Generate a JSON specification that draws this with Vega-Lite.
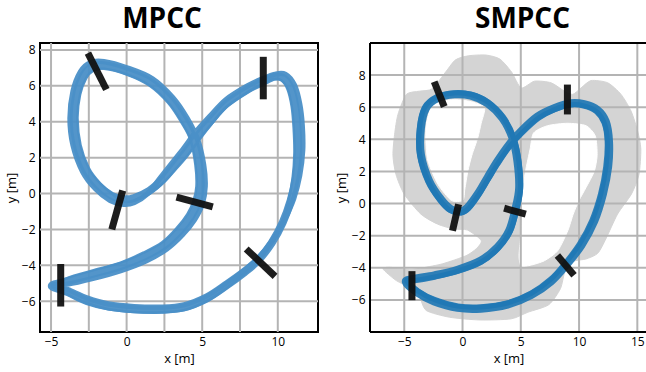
{
  "$schema": "https://vega.github.io/schema/vega-lite/v6.json",
  "padding": {"left": 4, "top": 5, "right": 0, "bottom": 0},
  "spacing": 15,
  "config": {
    "view": {"stroke": "black", "strokeWidth": 2},
    "axis": {"grid": false, "domain": false, "ticks": false, "labelFont": "Open Sans", "labelFontSize": 12, "labelColor": "#000", "titleFont": "Open Sans", "titleFontSize": 13, "titleFontWeight": "normal", "titleColor": "#000", "labelPadding": 5, "titlePadding": 3, "labelFlush": false},
    "axisX": {"labelPadding": 4, "titlePadding": 5},
    "title": {"font": "Open Sans", "fontSize": 28, "fontWeight": "bold", "color": "#000", "frame": "group", "anchor": "middle", "baseline": "alphabetic", "offset": 8}
  },
  "datasets": {
    "mp_laps": [
      {"l":1,"i":0,"x":-4.95,"y":-5.15},{"l":1,"i":1,"x":-3.9,"y":-5.5},{"l":1,"i":2,"x":-2.6,"y":-6.0},{"l":1,"i":3,"x":-1.2,"y":-6.3},{"l":1,"i":4,"x":0.5,"y":-6.45},{"l":1,"i":5,"x":2.3,"y":-6.48},{"l":1,"i":6,"x":3.8,"y":-6.35},{"l":1,"i":7,"x":5.3,"y":-5.85},{"l":1,"i":8,"x":6.6,"y":-5.13},{"l":1,"i":9,"x":7.7,"y":-4.45},{"l":1,"i":10,"x":8.68,"y":-3.74},{"l":1,"i":11,"x":9.6,"y":-2.75},{"l":1,"i":12,"x":10.33,"y":-1.61},{"l":1,"i":13,"x":10.85,"y":-0.4},{"l":1,"i":14,"x":11.2,"y":0.9},{"l":1,"i":15,"x":11.35,"y":2.3},{"l":1,"i":16,"x":11.3,"y":3.7},{"l":1,"i":17,"x":11.15,"y":4.9},{"l":1,"i":18,"x":10.85,"y":5.9},{"l":1,"i":19,"x":10.35,"y":6.45},{"l":1,"i":20,"x":9.75,"y":6.5},{"l":1,"i":21,"x":9.0,"y":6.22},{"l":1,"i":22,"x":8.0,"y":5.8},{"l":1,"i":23,"x":6.6,"y":5.0},{"l":1,"i":24,"x":5.5,"y":4.0},{"l":1,"i":25,"x":4.6,"y":3.1},{"l":1,"i":26,"x":3.9,"y":2.3},{"l":1,"i":27,"x":3.2,"y":1.6},{"l":1,"i":28,"x":2.4,"y":0.8},{"l":1,"i":29,"x":1.5,"y":0.15},{"l":1,"i":30,"x":0.5,"y":-0.25},{"l":1,"i":31,"x":-0.2,"y":-0.32},{"l":1,"i":32,"x":-1.0,"y":-0.12},{"l":1,"i":33,"x":-1.9,"y":0.45},{"l":1,"i":34,"x":-2.7,"y":1.3},{"l":1,"i":35,"x":-3.3,"y":2.7},{"l":1,"i":36,"x":-3.5,"y":4.2},{"l":1,"i":37,"x":-3.3,"y":5.6},{"l":1,"i":38,"x":-2.85,"y":6.6},{"l":1,"i":39,"x":-2.3,"y":7.05},{"l":1,"i":40,"x":-1.5,"y":7.15},{"l":1,"i":41,"x":0.05,"y":6.8},{"l":1,"i":42,"x":1.6,"y":6.2},{"l":1,"i":43,"x":2.9,"y":5.2},{"l":1,"i":44,"x":3.8,"y":4.1},{"l":1,"i":45,"x":4.45,"y":3.0},{"l":1,"i":46,"x":4.8,"y":1.6},{"l":1,"i":47,"x":4.9,"y":0.4},{"l":1,"i":48,"x":4.7,"y":-0.5},{"l":1,"i":49,"x":4.25,"y":-1.3},{"l":1,"i":50,"x":3.5,"y":-2.1},{"l":1,"i":51,"x":2.5,"y":-2.9},{"l":1,"i":52,"x":1.2,"y":-3.5},{"l":1,"i":53,"x":-0.4,"y":-4.05},{"l":1,"i":54,"x":-2.3,"y":-4.5},{"l":1,"i":55,"x":-3.9,"y":-4.88},
      {"l":2,"i":0,"x":-4.85,"y":-5.1},{"l":2,"i":1,"x":-3.9,"y":-5.35},{"l":2,"i":2,"x":-2.6,"y":-5.82},{"l":2,"i":3,"x":-1.2,"y":-6.15},{"l":2,"i":4,"x":0.5,"y":-6.3},{"l":2,"i":5,"x":2.3,"y":-6.33},{"l":2,"i":6,"x":3.8,"y":-6.2},{"l":2,"i":7,"x":5.3,"y":-5.7},{"l":2,"i":8,"x":6.6,"y":-4.98},{"l":2,"i":9,"x":7.75,"y":-4.28},{"l":2,"i":10,"x":8.75,"y":-3.55},{"l":2,"i":11,"x":9.7,"y":-2.55},{"l":2,"i":12,"x":10.45,"y":-1.45},{"l":2,"i":13,"x":11.05,"y":-0.3},{"l":2,"i":14,"x":11.45,"y":1.0},{"l":2,"i":15,"x":11.65,"y":2.4},{"l":2,"i":16,"x":11.62,"y":3.8},{"l":2,"i":17,"x":11.45,"y":5.0},{"l":2,"i":18,"x":11.1,"y":6.05},{"l":2,"i":19,"x":10.5,"y":6.65},{"l":2,"i":20,"x":9.8,"y":6.65},{"l":2,"i":21,"x":9.0,"y":6.4},{"l":2,"i":22,"x":8.0,"y":6.0},{"l":2,"i":23,"x":6.6,"y":5.25},{"l":2,"i":24,"x":5.5,"y":4.3},{"l":2,"i":25,"x":4.55,"y":3.4},{"l":2,"i":26,"x":3.8,"y":2.55},{"l":2,"i":27,"x":3.05,"y":1.75},{"l":2,"i":28,"x":2.25,"y":0.9},{"l":2,"i":29,"x":1.4,"y":0.0},{"l":2,"i":30,"x":0.5,"y":-0.5},{"l":2,"i":31,"x":-0.2,"y":-0.6},{"l":2,"i":32,"x":-1.1,"y":-0.38},{"l":2,"i":33,"x":-2.05,"y":0.25},{"l":2,"i":34,"x":-2.9,"y":1.2},{"l":2,"i":35,"x":-3.55,"y":2.7},{"l":2,"i":36,"x":-3.75,"y":4.2},{"l":2,"i":37,"x":-3.55,"y":5.7},{"l":2,"i":38,"x":-3.05,"y":6.8},{"l":2,"i":39,"x":-2.4,"y":7.3},{"l":2,"i":40,"x":-1.5,"y":7.35},{"l":2,"i":41,"x":0.05,"y":7.0},{"l":2,"i":42,"x":1.7,"y":6.4},{"l":2,"i":43,"x":3.05,"y":5.35},{"l":2,"i":44,"x":4.0,"y":4.2},{"l":2,"i":45,"x":4.7,"y":3.0},{"l":2,"i":46,"x":5.1,"y":1.6},{"l":2,"i":47,"x":5.2,"y":0.4},{"l":2,"i":48,"x":5.0,"y":-0.6},{"l":2,"i":49,"x":4.5,"y":-1.45},{"l":2,"i":50,"x":3.7,"y":-2.3},{"l":2,"i":51,"x":2.65,"y":-3.1},{"l":2,"i":52,"x":1.3,"y":-3.75},{"l":2,"i":53,"x":-0.4,"y":-4.3},{"l":2,"i":54,"x":-2.3,"y":-4.75},{"l":2,"i":55,"x":-3.9,"y":-5.05},
      {"l":3,"i":0,"x":-4.9,"y":-5.2},{"l":3,"i":1,"x":-3.9,"y":-5.62},{"l":3,"i":2,"x":-2.6,"y":-6.12},{"l":3,"i":3,"x":-1.2,"y":-6.45},{"l":3,"i":4,"x":0.5,"y":-6.6},{"l":3,"i":5,"x":2.3,"y":-6.62},{"l":3,"i":6,"x":3.8,"y":-6.5},{"l":3,"i":7,"x":5.3,"y":-6.0},{"l":3,"i":8,"x":6.6,"y":-5.28},{"l":3,"i":9,"x":7.62,"y":-4.6},{"l":3,"i":10,"x":8.6,"y":-3.9},{"l":3,"i":11,"x":9.5,"y":-2.9},{"l":3,"i":12,"x":10.2,"y":-1.75},{"l":3,"i":13,"x":10.68,"y":-0.5},{"l":3,"i":14,"x":10.98,"y":0.85},{"l":3,"i":15,"x":11.1,"y":2.25},{"l":3,"i":16,"x":11.05,"y":3.65},{"l":3,"i":17,"x":10.92,"y":4.85},{"l":3,"i":18,"x":10.65,"y":5.8},{"l":3,"i":19,"x":10.25,"y":6.3},{"l":3,"i":20,"x":9.7,"y":6.38},{"l":3,"i":21,"x":9.0,"y":6.12},{"l":3,"i":22,"x":8.0,"y":5.65},{"l":3,"i":23,"x":6.6,"y":4.82},{"l":3,"i":24,"x":5.55,"y":3.8},{"l":3,"i":25,"x":4.68,"y":2.85},{"l":3,"i":26,"x":3.98,"y":2.05},{"l":3,"i":27,"x":3.3,"y":1.4},{"l":3,"i":28,"x":2.5,"y":0.65},{"l":3,"i":29,"x":1.6,"y":0.05},{"l":3,"i":30,"x":0.5,"y":-0.38},{"l":3,"i":31,"x":-0.2,"y":-0.44},{"l":3,"i":32,"x":-0.95,"y":-0.02},{"l":3,"i":33,"x":-1.78,"y":0.6},{"l":3,"i":34,"x":-2.5,"y":1.42},{"l":3,"i":35,"x":-3.05,"y":2.7},{"l":3,"i":36,"x":-3.25,"y":4.2},{"l":3,"i":37,"x":-3.08,"y":5.5},{"l":3,"i":38,"x":-2.68,"y":6.42},{"l":3,"i":39,"x":-2.2,"y":6.85},{"l":3,"i":40,"x":-1.5,"y":6.95},{"l":3,"i":41,"x":0.05,"y":6.62},{"l":3,"i":42,"x":1.5,"y":6.02},{"l":3,"i":43,"x":2.75,"y":5.05},{"l":3,"i":44,"x":3.6,"y":4.0},{"l":3,"i":45,"x":4.22,"y":3.0},{"l":3,"i":46,"x":4.55,"y":1.6},{"l":3,"i":47,"x":4.62,"y":0.4},{"l":3,"i":48,"x":4.42,"y":-0.42},{"l":3,"i":49,"x":4.02,"y":-1.15},{"l":3,"i":50,"x":3.32,"y":-1.92},{"l":3,"i":51,"x":2.35,"y":-2.72},{"l":3,"i":52,"x":1.1,"y":-3.3},{"l":3,"i":53,"x":-0.4,"y":-3.85},{"l":3,"i":54,"x":-2.3,"y":-4.3},{"l":3,"i":55,"x":-3.9,"y":-4.7}
    ],
    "mp_gates": [
      {"g":1,"x":-2.56,"y":7.83,"x2":-1.34,"y2":5.8},
      {"g":2,"x":9.04,"y":7.62,"x2":9.04,"y2":5.25},
      {"g":3,"x":-0.26,"y":0.17,"x2":-0.98,"y2":-2.0},
      {"g":4,"x":3.3,"y":-0.2,"x2":5.7,"y2":-0.75},
      {"g":5,"x":-4.36,"y":-3.93,"x2":-4.36,"y2":-6.3},
      {"g":6,"x":7.91,"y":-3.09,"x2":9.82,"y2":-4.62}
    ],
    "sm_laps": [
      {"l":1,"i":0,"x":-4.86,"y":-4.89},{"l":1,"i":1,"x":-3.86,"y":-5.55},{"l":1,"i":2,"x":-2.43,"y":-6.1},{"l":1,"i":3,"x":-0.43,"y":-6.5},{"l":1,"i":4,"x":1.57,"y":-6.55},{"l":1,"i":5,"x":3.86,"y":-6.3},{"l":1,"i":6,"x":5.9,"y":-5.7},{"l":1,"i":7,"x":7.6,"y":-4.85},{"l":1,"i":8,"x":8.86,"y":-3.86},{"l":1,"i":9,"x":10.2,"y":-2.6},{"l":1,"i":10,"x":11.3,"y":-1.1},{"l":1,"i":11,"x":12.05,"y":0.6},{"l":1,"i":12,"x":12.5,"y":2.3},{"l":1,"i":13,"x":12.57,"y":3.88},{"l":1,"i":14,"x":12.29,"y":5.11},{"l":1,"i":15,"x":11.57,"y":5.84},{"l":1,"i":16,"x":10.43,"y":6.19},{"l":1,"i":17,"x":9.29,"y":6.25},{"l":1,"i":18,"x":7.86,"y":5.94},{"l":1,"i":19,"x":6.43,"y":5.42},{"l":1,"i":20,"x":5.0,"y":4.49},{"l":1,"i":21,"x":4.0,"y":3.67},{"l":1,"i":22,"x":3.0,"y":2.64},{"l":1,"i":23,"x":2.14,"y":1.61},{"l":1,"i":24,"x":1.29,"y":0.58},{"l":1,"i":25,"x":0.43,"y":-0.25},{"l":1,"i":26,"x":-0.14,"y":-0.49},{"l":1,"i":27,"x":-1.0,"y":-0.35},{"l":1,"i":28,"x":-1.86,"y":0.27},{"l":1,"i":29,"x":-2.86,"y":1.4},{"l":1,"i":30,"x":-3.57,"y":3.05},{"l":1,"i":31,"x":-3.57,"y":4.7},{"l":1,"i":32,"x":-3.14,"y":5.94},{"l":1,"i":33,"x":-2.14,"y":6.56},{"l":1,"i":34,"x":-0.71,"y":6.8},{"l":1,"i":35,"x":0.71,"y":6.72},{"l":1,"i":36,"x":2.14,"y":6.25},{"l":1,"i":37,"x":3.43,"y":5.32},{"l":1,"i":38,"x":4.29,"y":4.08},{"l":1,"i":39,"x":4.71,"y":2.64},{"l":1,"i":40,"x":4.86,"y":0.99},{"l":1,"i":41,"x":4.57,"y":-0.25},{"l":1,"i":42,"x":4.0,"y":-1.69},{"l":1,"i":43,"x":3.0,"y":-2.72},{"l":1,"i":44,"x":1.57,"y":-3.55},{"l":1,"i":45,"x":-0.43,"y":-4.12},{"l":1,"i":46,"x":-2.43,"y":-4.47},{"l":1,"i":47,"x":-4.14,"y":-4.68},
      {"l":2,"i":0,"x":-4.78,"y":-4.8},{"l":2,"i":1,"x":-3.8,"y":-5.45},{"l":2,"i":2,"x":-2.4,"y":-5.98},{"l":2,"i":3,"x":-0.4,"y":-6.38},{"l":2,"i":4,"x":1.6,"y":-6.43},{"l":2,"i":5,"x":3.9,"y":-6.18},{"l":2,"i":6,"x":5.9,"y":-5.58},{"l":2,"i":7,"x":7.55,"y":-4.72},{"l":2,"i":8,"x":8.78,"y":-3.74},{"l":2,"i":9,"x":10.05,"y":-2.5},{"l":2,"i":10,"x":11.1,"y":-1.05},{"l":2,"i":11,"x":11.85,"y":0.6},{"l":2,"i":12,"x":12.3,"y":2.3},{"l":2,"i":13,"x":12.42,"y":3.88},{"l":2,"i":14,"x":12.15,"y":5.02},{"l":2,"i":15,"x":11.5,"y":5.72},{"l":2,"i":16,"x":10.4,"y":6.08},{"l":2,"i":17,"x":9.3,"y":6.14},{"l":2,"i":18,"x":7.9,"y":5.85},{"l":2,"i":19,"x":6.5,"y":5.3},{"l":2,"i":20,"x":5.05,"y":4.35},{"l":2,"i":21,"x":4.05,"y":3.55},{"l":2,"i":22,"x":3.05,"y":2.5},{"l":2,"i":23,"x":2.2,"y":1.5},{"l":2,"i":24,"x":1.35,"y":0.5},{"l":2,"i":25,"x":0.5,"y":-0.32},{"l":2,"i":26,"x":-0.12,"y":-0.58},{"l":2,"i":27,"x":-1.05,"y":-0.44},{"l":2,"i":28,"x":-1.95,"y":0.22},{"l":2,"i":29,"x":-2.95,"y":1.4},{"l":2,"i":30,"x":-3.68,"y":3.05},{"l":2,"i":31,"x":-3.7,"y":4.7},{"l":2,"i":32,"x":-3.25,"y":6.0},{"l":2,"i":33,"x":-2.2,"y":6.66},{"l":2,"i":34,"x":-0.71,"y":6.9},{"l":2,"i":35,"x":0.75,"y":6.8},{"l":2,"i":36,"x":2.2,"y":6.32},{"l":2,"i":37,"x":3.5,"y":5.35},{"l":2,"i":38,"x":4.4,"y":4.05},{"l":2,"i":39,"x":4.85,"y":2.6},{"l":2,"i":40,"x":4.98,"y":0.95},{"l":2,"i":41,"x":4.68,"y":-0.3},{"l":2,"i":42,"x":4.08,"y":-1.75},{"l":2,"i":43,"x":3.05,"y":-2.8},{"l":2,"i":44,"x":1.6,"y":-3.65},{"l":2,"i":45,"x":-0.4,"y":-4.22},{"l":2,"i":46,"x":-2.4,"y":-4.58},{"l":2,"i":47,"x":-4.1,"y":-4.8}
    ],
    "sm_gates": [
      {"g":1,"x":-2.43,"y":7.59,"x2":-1.57,"y2":6.04},
      {"g":2,"x":9.0,"y":7.41,"x2":9.0,"y2":5.55},
      {"g":3,"x":-0.34,"y":-0.04,"x2":-0.86,"y2":-1.69},
      {"g":4,"x":3.57,"y":-0.29,"x2":5.43,"y2":-0.66},
      {"g":5,"x":-4.34,"y":-4.21,"x2":-4.34,"y2":-6.02},
      {"g":6,"x":8.14,"y":-3.24,"x2":9.57,"y2":-4.47}
    ],
    "sm_gray": [
      {"p":1,"i":1,"x":-5.54,"y":5.55},{"p":1,"i":2,"x":-4.82,"y":6.8},{"p":1,"i":3,"x":-3.68,"y":7.0},{"p":1,"i":4,"x":-2.6,"y":7.15},{"p":1,"i":5,"x":-1.4,"y":8.24},{"p":1,"i":6,"x":-0.6,"y":8.95},{"p":1,"i":7,"x":0.5,"y":9.2},{"p":1,"i":8,"x":2.0,"y":9.25},{"p":1,"i":9,"x":3.2,"y":9.0},{"p":1,"i":10,"x":4.2,"y":8.2},{"p":1,"i":11,"x":5.03,"y":7.2},{"p":1,"i":12,"x":6.17,"y":7.62},{"p":1,"i":13,"x":7.6,"y":7.52},{"p":1,"i":14,"x":8.74,"y":7.0},{"p":1,"i":15,"x":9.46,"y":6.8},{"p":1,"i":16,"x":10.17,"y":7.2},{"p":1,"i":17,"x":11.03,"y":7.66},{"p":1,"i":18,"x":12.46,"y":7.52},{"p":1,"i":19,"x":13.6,"y":6.8},{"p":1,"i":20,"x":14.46,"y":5.76},{"p":1,"i":21,"x":15.03,"y":4.5},{"p":1,"i":22,"x":15.3,"y":3.4},{"p":1,"i":23,"x":15.14,"y":1.81},{"p":1,"i":24,"x":14.5,"y":0.6},{"p":1,"i":25,"x":13.3,"y":-0.66},{"p":1,"i":26,"x":12.3,"y":-2.2},{"p":1,"i":27,"x":11.6,"y":-3.1},{"p":1,"i":28,"x":10.6,"y":-3.45},{"p":1,"i":29,"x":9.5,"y":-3.6},{"p":1,"i":30,"x":8.8,"y":-4.2},{"p":1,"i":31,"x":8.4,"y":-5.3},{"p":1,"i":32,"x":7.4,"y":-6.3},{"p":1,"i":33,"x":5.6,"y":-6.77},{"p":1,"i":34,"x":4.17,"y":-7.18},{"p":1,"i":35,"x":1.5,"y":-7.25},{"p":1,"i":36,"x":-1.11,"y":-7.08},{"p":1,"i":37,"x":-3.11,"y":-6.66},{"p":1,"i":38,"x":-3.68,"y":-5.84},{"p":1,"i":39,"x":-4.54,"y":-5.22},{"p":1,"i":40,"x":-5.68,"y":-4.8},{"p":1,"i":41,"x":-6.82,"y":-4.08},{"p":1,"i":42,"x":-6.25,"y":-3.97},{"p":1,"i":43,"x":-4.54,"y":-4.1},{"p":1,"i":44,"x":-3.4,"y":-4.0},{"p":1,"i":45,"x":-1.7,"y":-3.75},{"p":1,"i":46,"x":0.3,"y":-3.25},{"p":1,"i":47,"x":1.2,"y":-2.8},{"p":1,"i":48,"x":1.6,"y":-2.3},{"p":1,"i":49,"x":0.43,"y":-1.65},{"p":1,"i":50,"x":-0.71,"y":-1.59},{"p":1,"i":51,"x":-2.14,"y":-1.28},{"p":1,"i":52,"x":-3.57,"y":-0.66},{"p":1,"i":53,"x":-5.0,"y":0.58},{"p":1,"i":54,"x":-5.71,"y":1.81},{"p":1,"i":55,"x":-5.97,"y":3.0},{"p":1,"i":56,"x":-5.83,"y":4.3}
    ],
    "sm_holes": [
      {"p":1,"i":1,"x":-2.83,"y":5.76},{"p":1,"i":2,"x":-2.4,"y":6.2},{"p":1,"i":3,"x":-1.2,"y":6.45},{"p":1,"i":4,"x":-0.11,"y":6.45},{"p":1,"i":5,"x":1.0,"y":6.3},{"p":1,"i":6,"x":1.9,"y":5.96},{"p":1,"i":7,"x":1.6,"y":5.0},{"p":1,"i":8,"x":1.31,"y":4.1},{"p":1,"i":9,"x":0.8,"y":3.0},{"p":1,"i":10,"x":0.46,"y":2.03},{"p":1,"i":11,"x":0.2,"y":0.9},{"p":1,"i":12,"x":0.03,"y":0.2},{"p":1,"i":13,"x":-0.97,"y":0.2},{"p":1,"i":14,"x":-2.11,"y":1.2},{"p":1,"i":15,"x":-2.97,"y":2.65},{"p":1,"i":16,"x":-3.15,"y":4.0},{"p":1,"i":17,"x":-3.11,"y":4.9},
      {"p":2,"i":1,"x":6.1,"y":4.4},{"p":2,"i":2,"x":7.3,"y":4.85},{"p":2,"i":3,"x":9.0,"y":5.0},{"p":2,"i":4,"x":10.6,"y":4.85},{"p":2,"i":5,"x":11.4,"y":4.2},{"p":2,"i":6,"x":11.55,"y":3.0},{"p":2,"i":7,"x":11.3,"y":2.0},{"p":2,"i":8,"x":10.6,"y":1.0},{"p":2,"i":9,"x":10.0,"y":0.2},{"p":2,"i":10,"x":9.5,"y":-0.66},{"p":2,"i":11,"x":9.03,"y":-1.7},{"p":2,"i":12,"x":8.17,"y":-2.94},{"p":2,"i":13,"x":7.03,"y":-3.56},{"p":2,"i":14,"x":5.8,"y":-3.85},{"p":2,"i":15,"x":5.03,"y":-3.9},{"p":2,"i":16,"x":4.85,"y":-3.3},{"p":2,"i":17,"x":4.95,"y":-2.3},{"p":2,"i":18,"x":5.1,"y":-1.0},{"p":2,"i":19,"x":5.1,"y":0.5},{"p":2,"i":20,"x":5.4,"y":2.0},{"p":2,"i":21,"x":5.8,"y":3.4}
    ]
  },
  "hconcat": [
    {
      "width": 278,
      "height": 289,
      "title": {"text": "MPCC", "dx": -17},
      "layer": [
        {
          "data": {"values": [{"x":-5},{"x":-2.5},{"x":0},{"x":2.5},{"x":5},{"x":7.5},{"x":10}]},
          "mark": {"type": "rule", "color": "#b4b4b4", "strokeWidth": 2},
          "encoding": {
            "x": {"field": "x", "type": "quantitative", "scale": {"domain": [-5.73, 12.66], "nice": false, "zero": false}, "axis": {"values": [-5, 0, 5, 10], "title": "x [m]"}}
          }
        },
        {
          "data": {"values": [{"y":-6},{"y":-4},{"y":-2},{"y":0},{"y":2},{"y":4},{"y":6},{"y":8}]},
          "mark": {"type": "rule", "color": "#b4b4b4", "strokeWidth": 2},
          "encoding": {
            "y": {"field": "y", "type": "quantitative", "scale": {"domain": [-7.72, 8.39], "nice": false, "zero": false}, "axis": {"values": [-6, -4, -2, 0, 2, 4, 6, 8], "title": "y [m]"}}
          }
        },
        {
          "data": {"name": "mp_laps"},
          "mark": {"type": "line", "interpolate": "cardinal-closed", "clip": true, "color": "#4a8fc7", "opacity": 0.95},
          "encoding": {
            "x": {"field": "x", "type": "quantitative", "scale": {"domain": [-5.73, 12.66], "nice": false, "zero": false}, "axis": {"values": [-5, 0, 5, 10], "title": "x [m]"}},
            "y": {"field": "y", "type": "quantitative", "scale": {"domain": [-7.72, 8.39], "nice": false, "zero": false}, "axis": {"values": [-6, -4, -2, 0, 2, 4, 6, 8], "title": "y [m]"}},
            "detail": {"field": "l"},
            "order": {"field": "i"},
            "strokeWidth": {"field": "l", "type": "ordinal", "scale": {"domain": [1, 2, 3], "range": [8, 2.5, 2.5]}, "legend": null}
          }
        },
        {
          "data": {"name": "mp_gates"},
          "mark": {"type": "rule", "color": "#111111", "opacity": 0.95, "strokeWidth": 7, "strokeCap": "butt"},
          "encoding": {
            "x": {"field": "x", "type": "quantitative", "scale": {"domain": [-5.73, 12.66], "nice": false, "zero": false}, "axis": {"values": [-5, 0, 5, 10], "title": "x [m]"}},
            "y": {"field": "y", "type": "quantitative", "scale": {"domain": [-7.72, 8.39], "nice": false, "zero": false}, "axis": {"values": [-6, -4, -2, 0, 2, 4, 6, 8], "title": "y [m]"}},
            "x2": {"field": "x2"},
            "y2": {"field": "y2"}
          }
        }
      ]
    },
    {
      "width": 277,
      "height": 289,
      "title": {"text": "SMPCC", "dx": 14},
      "view": {"stroke": null},
      "layer": [
        {
          "data": {"name": "sm_gray"},
          "mark": {"type": "line", "interpolate": "cardinal-closed", "tension": 0.3, "clip": true, "color": "#d4d4d4", "fill": "#d4d4d4", "strokeWidth": 1},
          "encoding": {
            "x": {"field": "x", "type": "quantitative", "scale": {"domain": [-7.94, 15.83], "nice": false, "zero": false}, "axis": {"values": [-5, 0, 5, 10, 15], "title": "x [m]"}},
            "y": {"field": "y", "type": "quantitative", "scale": {"domain": [-8, 10], "nice": false, "zero": false}, "axis": {"values": [-6, -4, -2, 0, 2, 4, 6, 8], "title": "y [m]"}},
            "detail": {"field": "p"},
            "order": {"field": "i"}
          }
        },
        {
          "data": {"name": "sm_holes"},
          "mark": {"type": "line", "interpolate": "cardinal-closed", "tension": 0.3, "clip": true, "color": "#ffffff", "fill": "#ffffff", "strokeWidth": 1},
          "encoding": {
            "x": {"field": "x", "type": "quantitative", "scale": {"domain": [-7.94, 15.83], "nice": false, "zero": false}, "axis": {"values": [-5, 0, 5, 10, 15], "title": "x [m]"}},
            "y": {"field": "y", "type": "quantitative", "scale": {"domain": [-8, 10], "nice": false, "zero": false}, "axis": {"values": [-6, -4, -2, 0, 2, 4, 6, 8], "title": "y [m]"}},
            "detail": {"field": "p"},
            "order": {"field": "i"}
          }
        },
        {
          "data": {"values": [{"x":-5},{"x":0},{"x":5},{"x":10},{"x":15}]},
          "mark": {"type": "rule", "color": "#b4b4b4", "strokeWidth": 2},
          "encoding": {
            "x": {"field": "x", "type": "quantitative", "scale": {"domain": [-7.94, 15.83], "nice": false, "zero": false}, "axis": {"values": [-5, 0, 5, 10, 15], "title": "x [m]"}}
          }
        },
        {
          "data": {"values": [{"y":-6},{"y":-4},{"y":-2},{"y":0},{"y":2},{"y":4},{"y":6},{"y":8}]},
          "mark": {"type": "rule", "color": "#b4b4b4", "strokeWidth": 2},
          "encoding": {
            "y": {"field": "y", "type": "quantitative", "scale": {"domain": [-8, 10], "nice": false, "zero": false}, "axis": {"values": [-6, -4, -2, 0, 2, 4, 6, 8], "title": "y [m]"}}
          }
        },
        {
          "data": {"name": "sm_laps"},
          "mark": {"type": "line", "interpolate": "cardinal-closed", "clip": true, "color": "#1f77b4", "opacity": 0.92},
          "encoding": {
            "x": {"field": "x", "type": "quantitative", "scale": {"domain": [-7.94, 15.83], "nice": false, "zero": false}, "axis": {"values": [-5, 0, 5, 10, 15], "title": "x [m]"}},
            "y": {"field": "y", "type": "quantitative", "scale": {"domain": [-8, 10], "nice": false, "zero": false}, "axis": {"values": [-6, -4, -2, 0, 2, 4, 6, 8], "title": "y [m]"}},
            "detail": {"field": "l"},
            "order": {"field": "i"},
            "strokeWidth": {"field": "l", "type": "ordinal", "scale": {"domain": [1, 2], "range": [4.5, 2.5]}, "legend": null}
          }
        },
        {
          "data": {"name": "sm_gates"},
          "mark": {"type": "rule", "color": "#111111", "opacity": 0.95, "strokeWidth": 7, "strokeCap": "butt"},
          "encoding": {
            "x": {"field": "x", "type": "quantitative", "scale": {"domain": [-7.94, 15.83], "nice": false, "zero": false}, "axis": {"values": [-5, 0, 5, 10, 15], "title": "x [m]"}},
            "y": {"field": "y", "type": "quantitative", "scale": {"domain": [-8, 10], "nice": false, "zero": false}, "axis": {"values": [-6, -4, -2, 0, 2, 4, 6, 8], "title": "y [m]"}},
            "x2": {"field": "x2"},
            "y2": {"field": "y2"}
          }
        },
        {
          "data": {"values": [{"x":-7.94}]},
          "mark": {"type": "rule", "color": "#000000", "strokeWidth": 2},
          "encoding": {
            "x": {"field": "x", "type": "quantitative", "scale": {"domain": [-7.94, 15.83], "nice": false, "zero": false}, "axis": {"values": [-5, 0, 5, 10, 15], "title": "x [m]"}}
          }
        },
        {
          "data": {"values": [{"y":-8},{"y":10}]},
          "mark": {"type": "rule", "color": "#000000", "strokeWidth": 2},
          "encoding": {
            "y": {"field": "y", "type": "quantitative", "scale": {"domain": [-8, 10], "nice": false, "zero": false}, "axis": {"values": [-6, -4, -2, 0, 2, 4, 6, 8], "title": "y [m]"}}
          }
        }
      ]
    }
  ]
}
